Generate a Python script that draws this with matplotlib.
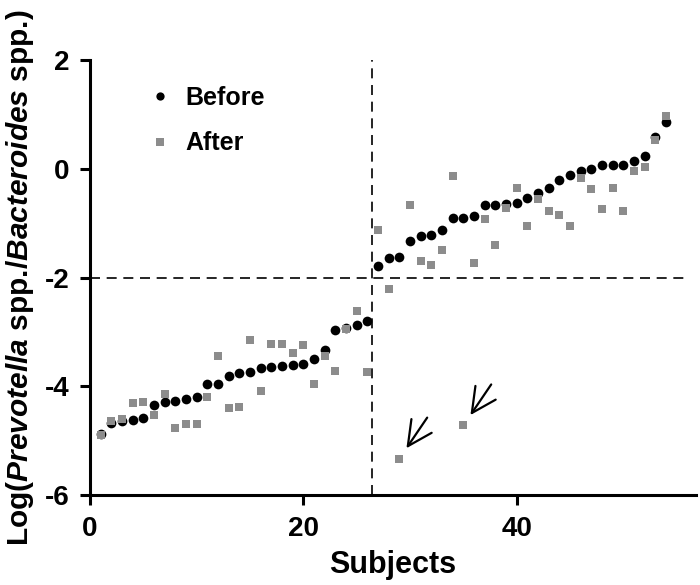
import numpy as np
import matplotlib
matplotlib.use("Agg")
import matplotlib.pyplot as plt

plt.rcParams["font.family"] = ["Liberation Sans", "DejaVu Sans"]
plt.rcParams["font.weight"] = "bold"
plt.rcParams["axes.unicode_minus"] = False
plt.rcParams["mathtext.fontset"] = "custom"
plt.rcParams["mathtext.rm"] = "Liberation Sans:bold"
plt.rcParams["mathtext.it"] = "Liberation Sans:italic:bold"

subjects = np.arange(1, 55)
before = [-4.88, -4.67, -4.63, -4.62, -4.59, -4.35, -4.28, -4.27, -4.23, -4.19,
          -3.96, -3.96, -3.82, -3.76, -3.73, -3.67, -3.64, -3.62, -3.61, -3.59,
          -3.50, -3.33, -2.97, -2.92, -2.87, -2.80, -1.79, -1.65, -1.62, -1.32,
          -1.23, -1.21, -1.12, -0.91, -0.90, -0.86, -0.66, -0.66, -0.65, -0.63,
          -0.53, -0.44, -0.35, -0.21, -0.11, -0.04, -0.01, 0.07, 0.07, 0.07,
          0.15, 0.24, 0.59, 0.86]
after = [-4.90, -4.64, -4.61, -4.31, -4.29, -4.52, -4.14, -4.76, -4.69, -4.69,
         -4.20, -3.45, -4.40, -4.39, -3.14, -4.09, -3.23, -3.22, -3.39, -3.25,
         -3.96, -3.45, -3.72, -2.94, -2.62, -3.73, -1.12, -2.21, -5.33, -0.67,
         -1.70, -1.77, -1.50, -0.14, -4.72, -1.74, -0.93, -1.40, -0.72, -0.35,
         -1.05, -0.55, -0.78, -0.85, -1.06, -0.17, -0.38, -0.74, -0.35, -0.78,
         -0.04, 0.04, 0.52, 0.97]
x_cut = 26.4
y_cut = -2
flagged = [29, 35]   # subjects marked with arrows

fig = plt.figure(figsize=(7, 5.85), dpi=100)
ax = fig.add_axes([0.1286, 0.1538, 0.8657, 0.7436])

ax.plot(subjects, before, "o", color="black", ms=7, mew=0, label="Before", zorder=3)
ax.plot(subjects, after, "s", color="#8c8c8c", ms=6.3, mew=0, label="After", zorder=4)

ax.plot([x_cut, x_cut], [-6, 2], color="black", lw=1.2, dashes=(6, 4), zorder=2)
ax.plot([0, 55.7], [y_cut, y_cut], color="black", lw=1.2, dashes=(6, 4), zorder=2)

for s in flagged:
    ax.annotate("", xy=(s, after[s - 1]), xytext=(20, 29.5), textcoords="offset points",
                arrowprops=dict(arrowstyle="->,head_length=1.1,head_width=0.55",
                                color="black", lw=1.6, shrinkA=0, shrinkB=9,
                                mutation_scale=16))

ax.set_xlim(0, 56.8)
ax.set_ylim(-6, 2)
ax.set_xticks([0, 20, 40])
ax.set_yticks([-6, -4, -2, 0, 2])
for sp in ("top", "right"):
    ax.spines[sp].set_visible(False)
for sp in ("left", "bottom"):
    ax.spines[sp].set_linewidth(2.2)
ax.tick_params(direction="out", length=7, width=2.2, labelsize=20, pad=8)

ax.set_xlabel("Subjects", fontsize=22, fontweight="bold", labelpad=6)
ax.set_ylabel(r"Log($\mathit{Prevotella}$ spp./$\mathit{Bacteroides}$ spp.)",
              fontsize=21.5, fontweight="bold", labelpad=6)

ax.legend(loc="upper left", bbox_to_anchor=(0.095, 0.94), frameon=False,
          fontsize=18, handlelength=1, handletextpad=0.5, labelspacing=0.85,
          borderpad=0, borderaxespad=0, markerscale=0.85)

fig.savefig("out.png", dpi=100)
